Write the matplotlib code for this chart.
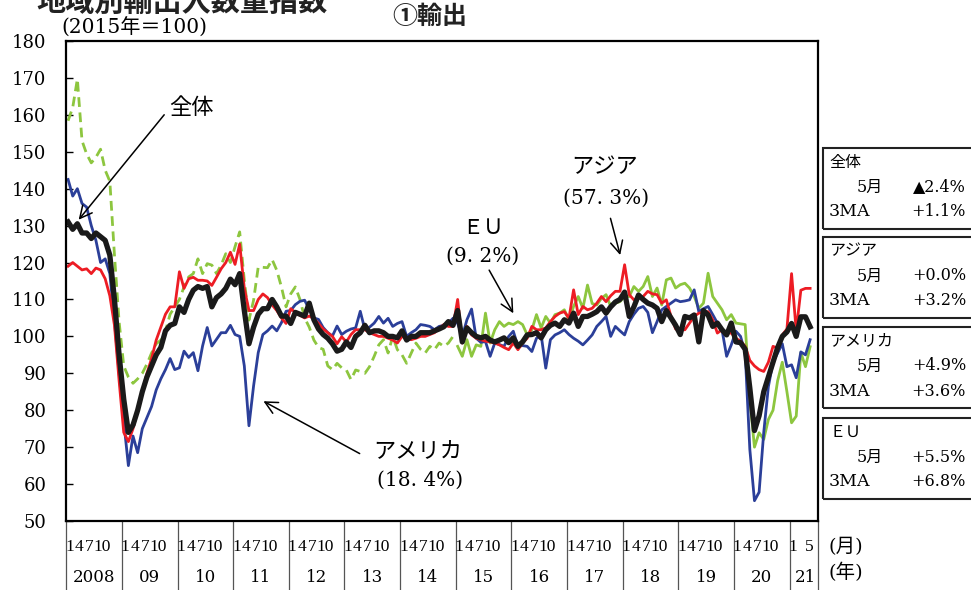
import numpy as np
import matplotlib
matplotlib.use("Agg")
import matplotlib.pyplot as plt
from matplotlib.patches import Rectangle

SERIF = ['DejaVu Serif', 'Noto Sans CJK JP']
NARROW = ['Liberation Serif', 'Noto Sans CJK JP']
GOTHIC = ['Noto Sans CJK JP', 'DejaVu Sans']

# monthly index, 2015=100, 2008/1 - 2021/5
total = [
    131, 129, 130.5, 128, 128, 126.5, 128, 127, 126, 122, 110, 95,          # 2008
    83, 74, 76, 80, 85, 89, 92, 95, 97, 101.5, 103, 103.5,                   # 2009
    108, 106.5, 110, 112.5, 113.5, 113, 113.5, 108, 110.5, 111.5, 113, 115.5,  # 2010
    114, 117, 107, 98, 102.5, 106, 107.5, 107.5, 110, 108, 105.5, 105.5,     # 2011
    103.5, 106.5, 106, 105.5, 109, 104.5, 102, 100.5, 99.5, 98, 96, 96.5,    # 2012
    98.5, 97, 100, 101, 103, 101, 101.5, 101.5, 101, 100, 100, 99.6,         # 2013
    101.5, 99, 100, 100, 101, 101, 101, 101.5, 102, 102.6, 104, 103,         # 2014
    107, 98.5, 102.3, 101, 100, 99.6, 100, 99, 98.5, 99, 99.6, 98.3,         # 2015
    99.6, 97.3, 98.5, 100.4, 100.5, 101, 99.6, 101.8, 103, 103.6, 102.7, 104.5,  # 2016
    103.6, 106.3, 102.7, 105.4, 105.4, 106, 106.7, 108, 106.3, 108, 109.3, 110,  # 2017
    112, 105.4, 108, 111.2, 110, 109, 108.5, 107.6, 104, 107, 105, 103,      # 2018
    100.5, 105.4, 105, 105.8, 98.5, 107, 105.8, 102.7, 103.6, 101.8, 100.4, 103.6,  # 2019
    98.5, 98.3, 96.5, 86, 74.5, 78.5, 85, 89, 93, 97, 100, 101.2,            # 2020
    103.5, 100, 105.3, 105.3, 102.6,                                        # 2021
]

asia = [
    119, 120, 119, 118, 118.3, 117, 118.5, 118, 115.6, 111, 103, 88,
    74, 71.5, 75, 80, 85, 90, 94, 99, 102.5, 106, 108, 108,
    117.5, 113, 115.6, 116, 115.2, 115.2, 115, 113.8, 116, 118.3, 120, 122.8,
    119.5, 125, 113, 107, 107, 110, 111.5, 110.5, 108.5, 107, 105, 103.5,
    107.5, 106.5, 105.7, 105, 105.5, 104.8, 103.5, 102, 101, 100, 98, 99.9,
    98.5, 100.5, 101.8, 101.8, 101.8, 101, 100.5, 100, 100, 99.5, 99, 98.2,
    100, 99.5, 99.1, 99.5, 100, 100, 100.5, 101, 102, 103.2, 102.7, 102.7,
    110, 98.2, 102.7, 100.4, 99.5, 99.1, 98.7, 98.5, 98.2, 97.7, 97, 96.4,
    98.2, 96.4, 98.2, 99.5, 102.7, 101.8, 101.8, 102.3, 104, 105.4, 106.3, 106.7,
    104.9, 112.6, 105.9, 108.1, 107.2, 107.6, 109, 110.8, 109.4, 111, 112.2, 112.2,
    119.4, 111.3, 109.9, 110.5, 110.8, 112.2, 111.5, 111.3, 109, 109.9, 105.4, 102,
    101.8, 101.8, 103.6, 105.4, 106.3, 106.5, 106.7, 104.5, 100.9, 101.8, 100.9, 100.9,
    99.5, 98.7, 97.3, 93.5, 92, 91, 90.5, 93, 97.3, 96.8, 100.4, 102,
    117, 101.5, 112.5, 113, 113,
]

america = [
    142.5, 138, 140, 136, 135, 130, 126, 120, 121, 117, 104, 90,
    77, 65, 73, 68.5, 75, 78, 81, 85.5, 88.5, 91, 94, 91,
    91.5, 96, 94.3, 95.6, 90.7, 97.4, 102.4, 97.4, 99.2, 101, 101, 103,
    100.5, 100, 92, 75.8, 86.6, 95.6, 100.5, 101.5, 102.8, 101.5, 103.7, 106.8,
    107, 108.6, 109.5, 109.8, 107.3, 105, 104.6, 102.4, 101, 100.1, 102.8, 100.5,
    101.4, 102, 102.3, 106.8, 101.8, 102.5, 103.6, 105.4, 103.6, 104.9, 102.7, 103.5,
    104, 100, 101, 101.8, 103.2, 103, 102.7, 101.8, 102.7, 103, 103.6, 104.9,
    103.5, 100, 104.5, 107.4, 99.5, 98.4, 98.6, 94.6, 98.2, 97.8, 97.3, 100,
    101.4, 97.3, 97.5, 97.3, 95.9, 99.5, 100.4, 91.4, 99.1, 100.4, 101, 101.8,
    100.5, 99.5, 98.7, 97.7, 99, 100.4, 102.7, 104, 105.4, 100, 102.7, 101.5,
    100.4, 104, 106, 107.6, 108.1, 106.5, 101, 104, 107.2, 108.1, 109, 109.9,
    109.4, 109.6, 109.9, 112.6, 106.7, 107.5, 108.1, 105.9, 103.6, 101.8, 94.6, 97.7,
    101.4, 100, 95.5, 69.4, 55.5, 57.8, 74, 86.4, 93, 95.5, 98, 91.8,
    92.3, 88.8, 95.8, 95, 99.1,
]

# EU: old base (dashed) up to 2014/12, new series from 2015/1
eu = [
    158.4, 162, 169.7, 153, 149.4, 147, 148.5, 150.7, 145, 142, 122, 104,
    92, 89, 87.3, 88.5, 90, 92.5, 95.5, 98, 99, 101.5, 106, 108,
    110, 113.4, 116.1, 117, 121, 117, 119.7, 119.3, 117, 119.3, 122.4, 120,
    124.3, 128.3, 115.2, 104.4, 109.8, 118.8, 118.7, 118.6, 120.8, 117.9, 113.4, 108,
    111.5, 113.4, 110, 105, 102.5, 99, 97, 96.5, 92, 91, 92.7, 91.5,
    90.9, 88.3, 90.9, 90.5, 90, 91.8, 94.6, 97.7, 99.1, 95.5, 100, 96.4,
    95, 92.7, 95.5, 98.2, 96.5, 95.5, 97.3, 96.4, 98.2, 97.3, 98.2, 100,
    97.3, 94.6, 99.1, 94.6, 97.7, 97.3, 106.3, 98.2, 101.8, 104, 102.7, 103.6,
    103.2, 104, 103.2, 100.4, 101.8, 105.9, 102.3, 105.4, 103.6, 105.9, 106.3, 107.2,
    104.5, 108.1, 110.8, 107.6, 113.9, 108.9, 108.5, 110.3, 111.3, 108.1, 109, 109.4,
    110.8, 110.8, 113.5, 112.2, 113.5, 116.2, 110.8, 113.1, 108.5, 115.3, 115.8, 113.1,
    114, 114.4, 113.1, 110.8, 107.6, 109, 117.1, 110.8, 109, 107.2, 104.5, 105.9,
    103.6, 103.4, 103.2, 83, 70, 73.9, 72.1, 77.5, 80, 88, 93, 85,
    76.6, 78.4, 95.6, 91.8, 97.2,
]
eu_break = 84  # 2015/1

year_labels = ['2008', '09', '10', '11', '12', '13', '14', '15', '16', '17', '18', '19', '20', '21']
month_labels = ['1', '4', '7', '10']
last_month_labels = ['1', '5']

# right-hand boxes: (name, latest month, 3MA)
box_names = ['全体', 'アジア', 'アメリカ', 'ＥＵ']
box_month = ['▲2.4%', '+0.0%', '+4.9%', '+5.5%']
box_3ma = ['+1.1%', '+3.2%', '+3.6%', '+6.8%']

W, H = 971, 590


def fx(px):
    return px / W


def fy(py):
    return 1 - py / H


fig = plt.figure(figsize=(W / 100, H / 100), dpi=100)
ax = fig.add_axes([fx(66), fy(521), fx(818) - fx(66), fy(41) - fy(521)])

m = np.arange(len(total))
ax.plot(m[:eu_break], eu[:eu_break], color='#8dc63f', lw=2.0, ls=(0, (3.5, 2)))
ax.plot(m[eu_break:], eu[eu_break:], color='#8dc63f', lw=2.0)
ax.plot(m, america, color='#2b3f99', lw=2.0)
ax.plot(m, asia, color='#ed1c24', lw=2.0)
ax.plot(m, total, color='#1a1a1a', lw=3.8)

ax.set_xlim(-0.45, 161.7)
ax.set_ylim(50, 180)
ax.set_yticks(np.arange(50, 181, 10))
ax.set_xticks([])
ax.tick_params(axis='y', direction='in', length=5, width=1, pad=14)
for lab in ax.get_yticklabels():
    lab.set_fontfamily(SERIF)
    lab.set_fontsize(13)
for s in ax.spines.values():
    s.set_linewidth(1.6)

# month / year labels under the axis
tr = ax.get_xaxis_transform()
offs = [0.3, 2.4, 4.6, 7.4]
for k, yl in enumerate(year_labels):
    base = 12 * k
    if yl == '21':
        for lab, o in zip(last_month_labels, [0.3, 3.8]):
            ax.text(base + o, -0.054, lab, transform=tr, ha='center', va='center',
                    fontsize=12.5, family=NARROW, clip_on=False)
        ax.text(base + 2.9, -0.118, yl, transform=tr, ha='center', va='center',
                fontsize=12, family=SERIF, clip_on=False)
    else:
        for lab, o in zip(month_labels, offs):
            ax.text(base + o, -0.054, lab, transform=tr, ha='center', va='center',
                    fontsize=12.5, family=NARROW, clip_on=False)
        ax.text(base + 5.6, -0.118, yl, transform=tr, ha='center', va='center',
                fontsize=12, family=SERIF, clip_on=False)
seps = [-0.45] + [12 * k - 0.4 for k in range(1, 14)] + [161.7]
for sx in seps:
    ax.plot([sx, sx], [0, -0.15], transform=tr, color='#555555', lw=0.9, clip_on=False)

fig.text(fx(828), fy(547), '(月)', family=SERIF, fontsize=14, va='center')
fig.text(fx(828), fy(572), '(年)', family=SERIF, fontsize=14, va='center')

# titles (the main title is cut by the top edge, as in the source)
fig.text(fx(36), fy(2), '地域別輸出入数量指数', family=GOTHIC, fontsize=21,
         fontweight='bold', va='center', color='#222222')
fig.text(fx(392), fy(17), '①輸出', family=GOTHIC, fontsize=18, fontweight='bold',
         va='center', color='#222222')
fig.text(fx(61), fy(28), '(2015年＝100)', family=SERIF, fontsize=14.5, va='center')

# annotations
arrow = dict(arrowstyle='->', color='black', lw=1.1, mutation_scale=22)
ax.text(26.5, 161.9, '全体', family=GOTHIC, fontsize=16, ha='center', va='center')
ax.annotate('', xy=(1.9, 131), xytext=(21.1, 160.6), arrowprops=arrow)

ax.text(75.4, 68.7, 'アメリカ', family=GOTHIC, fontsize=16, ha='center', va='center')
ax.text(75.9, 61.1, '(18. 4%)', family=SERIF, fontsize=14.5, ha='center', va='center')
ax.annotate('', xy=(41.6, 82.8), xytext=(63.4, 67.9), arrowprops=arrow)

ax.text(89.4, 129.4, 'ＥＵ', family=GOTHIC, fontsize=15, ha='center', va='center')
ax.text(89.4, 121.8, '(9. 2%)', family=SERIF, fontsize=14.5, ha='center', va='center')
ax.annotate('', xy=(96.3, 105.6), xytext=(90.5, 118.6), arrowprops=arrow)

ax.text(115.7, 145.9, 'アジア', family=GOTHIC, fontsize=16, ha='center', va='center')
ax.text(115.9, 137.5, '(57. 3%)', family=SERIF, fontsize=14.5, ha='center', va='center')
ax.annotate('', xy=(119.2, 121.3), xytext=(116.8, 132.7), arrowprops=arrow)

# boxes on the right
box_tops = [148, 237, 327, 418]
box_h = 81
for name, v1, v2, top in zip(box_names, box_month, box_3ma, box_tops):
    rect = Rectangle((fx(823), fy(top + box_h)), 0.2, box_h / H, transform=fig.transFigure,
                     fill=False, lw=1.5, edgecolor='#222222', clip_on=False)
    fig.add_artist(rect)
    fig.text(fx(829), fy(top + 14), name, family=GOTHIC, fontsize=11.5, va='center')
    fig.text(fx(857), fy(top + 39), '5月', family=SERIF, fontsize=11.5, va='center')
    fig.text(fx(966), fy(top + 39), v1, family=SERIF, fontsize=11.5, va='center', ha='right')
    fig.text(fx(829), fy(top + 64), '3MA', family=SERIF, fontsize=12.5, va='center')
    fig.text(fx(966), fy(top + 64), v2, family=SERIF, fontsize=11.5, va='center', ha='right')

fig.savefig('out.png', dpi=100)
